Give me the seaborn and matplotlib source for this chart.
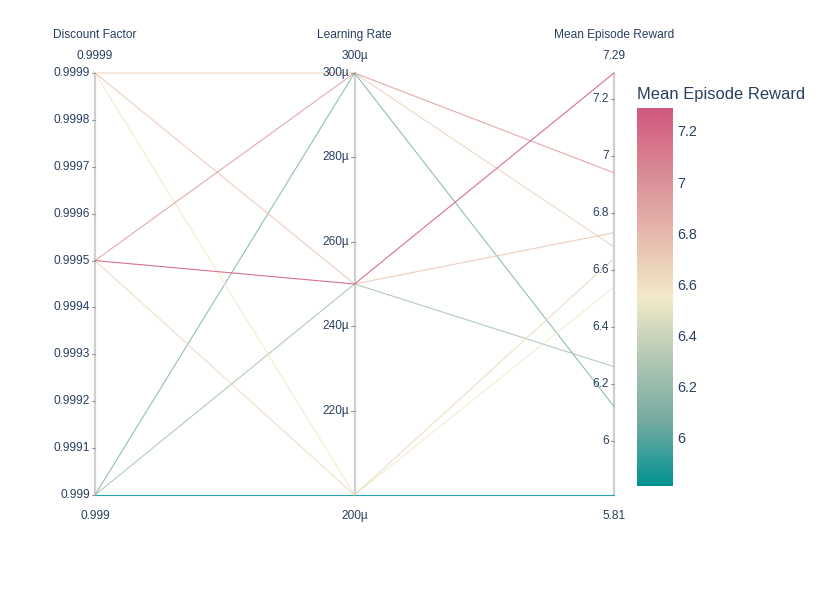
import numpy as np
import pandas as pd
import seaborn as sns
import matplotlib.pyplot as plt
from matplotlib.colors import LinearSegmentedColormap, Normalize
from matplotlib.colorbar import ColorbarBase

# runs of the sweep (3 x 3 grid)
discount = [0.9999, 0.9995, 0.999, 0.9999, 0.9995, 0.999, 0.9999, 0.9995, 0.999]
lr = [300e-6, 300e-6, 300e-6, 250e-6, 250e-6, 250e-6, 200e-6, 200e-6, 200e-6]
reward = [6.68, 6.94, 6.12, 6.73, 7.29, 6.26, 6.54, 6.64, 5.81]

dims = ["Discount Factor", "Learning Rate", "Mean Episode Reward"]
ranges = [(0.999, 0.9999), (200e-6, 300e-6), (5.81, 7.29)]
range_labels = [("0.999", "0.9999"), ("200µ", "300µ"), ("5.81", "7.29")]
ticks = [
    [0.999, 0.9991, 0.9992, 0.9993, 0.9994, 0.9995, 0.9996, 0.9997, 0.9998, 0.9999],
    [220e-6, 240e-6, 260e-6, 280e-6, 300e-6],
    [6.0, 6.2, 6.4, 6.6, 6.8, 7.0, 7.2],
]
tick_labels = [
    ["0.999", "0.9991", "0.9992", "0.9993", "0.9994", "0.9995", "0.9996", "0.9997", "0.9998", "0.9999"],
    ["220µ", "240µ", "260µ", "280µ", "300µ"],
    ["6", "6.2", "6.4", "6.6", "6.8", "7", "7.2"],
]
cbar_ticks = [6.0, 6.2, 6.4, 6.6, 6.8, 7.0, 7.2]
cbar_labels = ["6", "6.2", "6.4", "6.6", "6.8", "7", "7.2"]

tealrose = ["#009392", "#72aaa1", "#b1c7b3", "#f1eac8", "#e5b9ad", "#d98994", "#d0587e"]
cmap = LinearSegmentedColormap.from_list("tealrose", tealrose)
text_col = "#2a3f5f"

sns.set_theme(style="white")
plt.rcParams["font.family"] = ["Liberation Sans", "DejaVu Sans"]

# long form, every axis scaled to 0..1
cols = [discount, lr, reward]
rows = []
for run in range(len(reward)):
    for i, vals in enumerate(cols):
        lo, hi = ranges[i]
        rows.append({"run": run, "axis": i, "pos": (vals[run] - lo) / (hi - lo), "reward": reward[run]})
df = pd.DataFrame(rows)

W, H = 831, 593
fig = plt.figure(figsize=(W / 100, H / 100), dpi=100)
ax = fig.add_axes([95 / W, 1 - 495 / H, 519 / W, 422 / H])

for i in range(3):
    ax.axvline(i, color="#d0d0d0", lw=1.6, zorder=1)

sns.lineplot(data=df, x="axis", y="pos", hue="reward", units="run", estimator=None,
             palette=cmap, hue_norm=(5.81, 7.29), legend=False, lw=0.8, alpha=0.85,
             ax=ax, zorder=2)
for line in ax.lines:
    line.set_clip_on(False)

ax.set_xlim(0, 2)
ax.set_ylim(0, 1)
ax.axis("off")

# ticks and labels for each parallel axis
for i in range(3):
    lo, hi = ranges[i]
    for t, lab in zip(ticks[i], tick_labels[i]):
        y = (t - lo) / (hi - lo)
        ax.plot([i - 0.012, i], [y, y], color="#999999", lw=0.8, clip_on=False)
        ax.text(i - 0.02, y, lab, ha="right", va="center", fontsize=8.6, color=text_col)
    ax.text(i, 1.04, range_labels[i][1], ha="center", va="center", fontsize=8.6, color=text_col)
    ax.text(i, -0.05, range_labels[i][0], ha="center", va="center", fontsize=8.6, color=text_col)
    ax.text(i, 1.09, dims[i], ha="center", va="center", fontsize=8.6, color=text_col)

# colour bar
cax = fig.add_axes([637 / W, 1 - 486 / H, 36 / W, 378 / H])
cb = ColorbarBase(cax, cmap=cmap, norm=Normalize(5.81, 7.29))
cb.outline.set_visible(False)
cb.set_ticks(cbar_ticks)
cb.set_ticklabels(cbar_labels)
cax.tick_params(length=0, labelsize=10.3, labelcolor=text_col, pad=3)
fig.text(637 / W, 1 - 94 / H, "Mean Episode Reward", fontsize=11.9, color=text_col,
         ha="left", va="center")

fig.savefig("out.png", dpi=100)
